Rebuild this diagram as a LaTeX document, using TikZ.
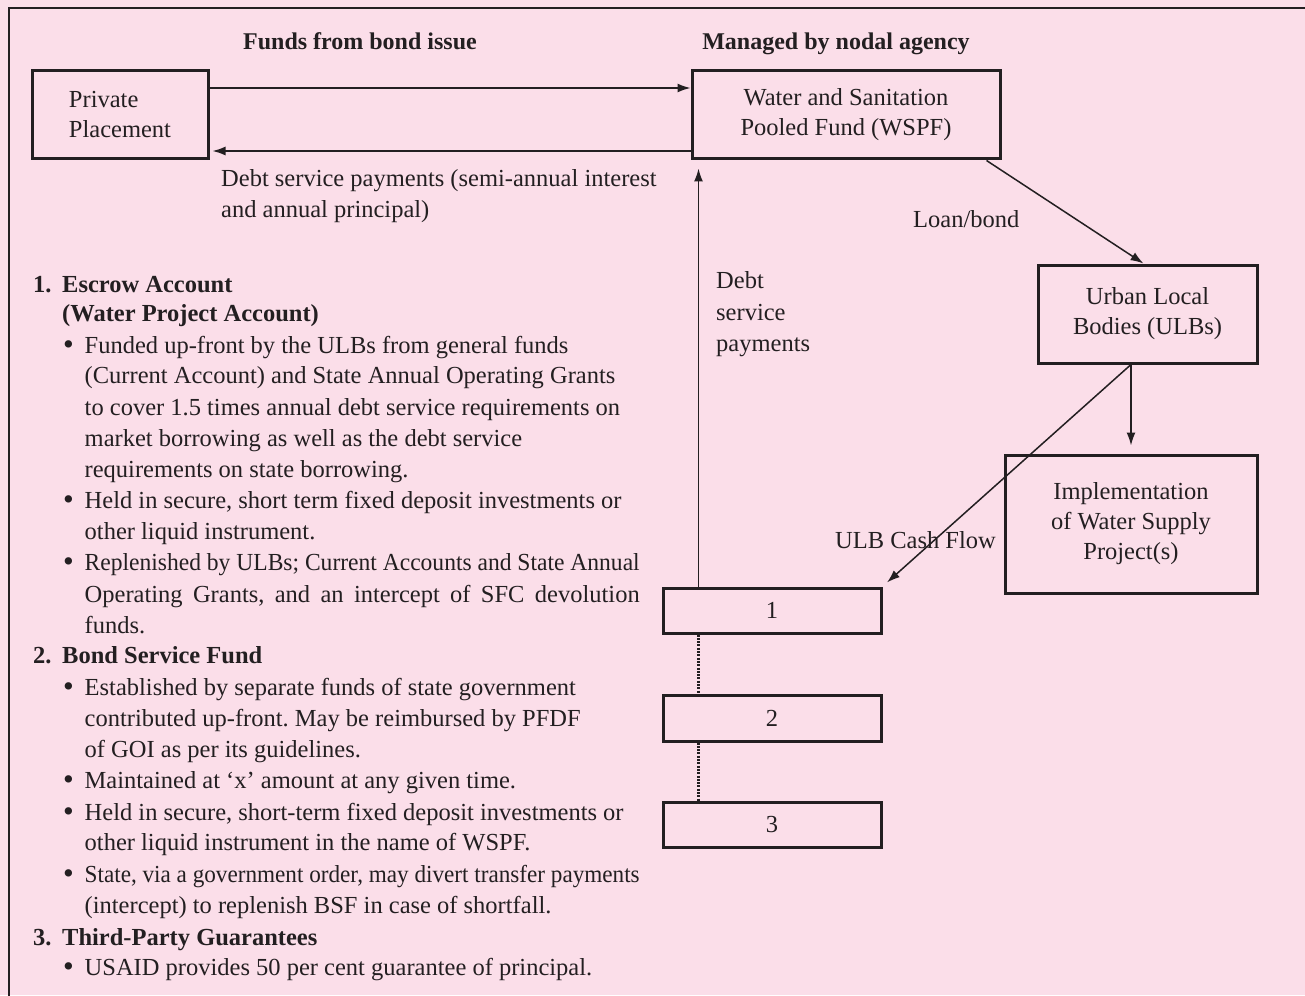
\documentclass[tikz,border=0pt]{standalone}
\usepackage{graphicx}
\usepackage{fontspec}
\setmainfont{Liberation Serif}
\usetikzlibrary{arrows.meta}
\definecolor{bgpink}{RGB}{251,222,233}
\definecolor{ink}{RGB}{35,31,33}
\frenchspacing
\newcommand\squeezeline[1]{\resizebox{555pt}{\height}{#1}}
\newcommand\spreadline[1]{\makebox[555pt][s]{#1}}
\newcommand\bigbul{\raisebox{-1.8pt}{\scalebox{1.25}{\textbullet}}}
\begin{document}
\begin{tikzpicture}[x=1pt,y=-1pt,
  font=\fontsize{24.5}{30}\selectfont,
  box/.style={draw=ink, line width=3pt, inner sep=0pt, align=center, text=ink},
  conn/.style={draw=ink, line width=1.5pt},
  arr/.style={conn, -{Latex[length=13pt,width=9pt]}},
  txt/.style={anchor=base west, inner sep=0pt, text=ink},
  hd/.style={anchor=base, inner sep=0pt, text=ink, font=\fontsize{24}{30}\selectfont\bfseries},
  bhd/.style={txt, font=\fontsize{24.5}{30}\selectfont\bfseries}]

\fill[bgpink] (0,0) rectangle (1305,995);
\useasboundingbox (0,0) rectangle (1305,995);
\draw[ink, line width=2pt] (9,996) -- (9,8) -- (1306,8);

% headings
\node[hd] (hfunds) at (360,50) {Funds from bond issue};
\node[hd] (hmanaged) at (836,50) {Managed by nodal agency};

% boxes
\node[box, minimum width=176pt, minimum height=88pt, align=left] (priv) at (120,115) {Private\\Placement};
\node[box, minimum width=308pt, minimum height=88pt] (wspf) at (846,115) {Water and Sanitation\\Pooled Fund (WSPF)};
\node[box, minimum width=219pt, minimum height=98pt] (ulb) at (1147.5,314) {Urban Local\\Bodies (ULBs)};
\node[box, minimum width=252pt, minimum height=138pt] (impl) at (1131,524) {Implementation\\of Water Supply\\Project(s)};
\node[box, minimum width=218pt, minimum height=45pt] (b1) at (772,610.5) {1};
\node[box, minimum width=218pt, minimum height=46pt] (b2) at (772,718) {2};
\node[box, minimum width=218pt, minimum height=45pt] (b3) at (772,824.5) {3};

% connectors
\draw[arr] ([yshift=27pt]priv.east) -- ([yshift=27pt]wspf.west);
\draw[arr, shorten >=3pt] ([yshift=-36pt]wspf.west) -- ([yshift=-36pt]priv.east);
\draw[arr] ([xshift=-15pt]wspf.south east) -- ([xshift=-4pt]ulb.north);
\draw[arr, shorten >=8pt] ([xshift=37pt]b1.north west) -- ([xshift=8pt]wspf.south west);
\draw[arr, shorten >=8pt] (ulb.south -| impl.north) -- (impl.north);
\draw[arr, shorten >=6pt] (ulb.south -| impl.north) -- (b1.north east);
\draw[conn, line width=2.2pt, dash pattern=on 2pt off 1.3pt] ([xshift=37pt]b1.south west) -- ([xshift=37pt]b2.north west);
\draw[conn, line width=2.2pt, dash pattern=on 2pt off 1.3pt] ([xshift=37pt]b2.south west) -- ([xshift=37pt]b3.north west);

% connector labels
\node[txt] (dsp1) at (221,186) {Debt service payments (semi-annual interest};
\node[txt] (dsp2) at (221,217) {and annual principal)};
\node[txt] (loan) at (913,227) {Loan/bond};
\node[txt] (cash) at (835,548) {ULB Cash Flow};
\node[txt] (ds1) at (716,288) {Debt};
\node[txt] (ds2) at (716,320) {service};
\node[txt] (ds3) at (716,351) {payments};

% left text
\node[bhd] (n1) at (33,292) {1.};
\node[bhd] (h1) at (62,292) {Escrow Account};
\node[bhd] (h1b) at (62,321) {(Water Project Account)};
\node[txt] (u1) at (63,353) {\bigbul};
\node[txt] (l1) at (84.5,353) {Funded up-front by the ULBs from general funds};
\node[txt] (l2) at (84.5,383) {(Current Account) and State Annual Operating Grants};
\node[txt] (l3) at (84.5,415) {to cover 1.5 times annual debt service requirements on};
\node[txt] (l4) at (84.5,446) {market borrowing as well as the debt service};
\node[txt] (l5) at (84.5,477) {requirements on state borrowing.};
\node[txt] (u2) at (63,508) {\bigbul};
\node[txt] (l6) at (84.5,508) {Held in secure, short term fixed deposit investments or};
\node[txt] (l7) at (84.5,539) {other liquid instrument.};
\node[txt] (u3) at (63,570) {\bigbul};
\node[txt] (l8) at (84.5,570) {\squeezeline{Replenished by ULBs; Current Accounts and State Annual}};
\node[txt] (l9) at (84.5,602) {\spreadline{Operating Grants, and an intercept of SFC devolution}};
\node[txt] (l10) at (84.5,633) {funds.};
\node[bhd] (n2) at (33,663) {2.};
\node[bhd] (h2) at (62,663) {Bond Service Fund};
\node[txt] (u4) at (63,695) {\bigbul};
\node[txt] (l11) at (84.5,695) {Established by separate funds of state government};
\node[txt] (l12) at (84.5,726) {contributed up-front. May be reimbursed by PFDF};
\node[txt] (l13) at (84.5,757) {of GOI as per its guidelines.};
\node[txt] (u5) at (63,788) {\bigbul};
\node[txt] (l14) at (84.5,788) {Maintained at `x' amount at any given time.};
\node[txt] (u6) at (63,820) {\bigbul};
\node[txt] (l15) at (84.5,820) {Held in secure, short-term fixed deposit investments or};
\node[txt] (l16) at (84.5,850) {other liquid instrument in the name of WSPF.};
\node[txt] (u7) at (63,882) {\bigbul};
\node[txt] (l17) at (84.5,882) {\squeezeline{State, via a government order, may divert transfer payments}};
\node[txt] (l18) at (84.5,913) {(intercept) to replenish BSF in case of shortfall.};
\node[bhd] (n3) at (33,945) {3.};
\node[bhd] (h3) at (62,945) {Third-Party Guarantees};
\node[txt] (u8) at (63,975) {\bigbul};
\node[txt] (l19) at (84.5,975) {USAID provides 50 per cent guarantee of principal.};
\end{tikzpicture}
\end{document}
